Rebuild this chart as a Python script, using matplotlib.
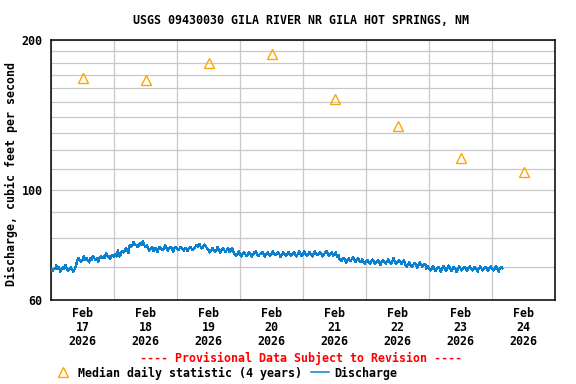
import matplotlib
matplotlib.use("Agg")
import matplotlib.pyplot as plt
import matplotlib.dates as mdates
import pandas as pd
from matplotlib.lines import Line2D
from matplotlib.ticker import FixedLocator, FixedFormatter, NullFormatter

plt.rcParams["font.family"] = ["DejaVu Sans Mono"]
plt.rcParams["font.weight"] = "bold"
plt.rcParams["font.size"] = 8.4

TITLE = "USGS 09430030 GILA RIVER NR GILA HOT SPRINGS, NM"
Y_LABEL = "Discharge, cubic feet per second"

# median daily statistic, one value per day (plotted at noon)
median_days = pd.date_range("2026-02-17 12:00", periods=8, freq="D")
median_cfs = [167.5, 166.2, 179.6, 187.5, 152.0, 134.1, 115.7, 108.4]

# discharge, 30-minute readings starting 2026-02-17 00:00
discharge_start = "2026-02-17 00:00"
discharge_cfs = [
    # Feb 17
    69.2, 68.6, 69.2, 69.2, 70.4, 69.2, 69.8, 68.4, 69.2, 69.8, 69.2, 70.6,
    69.2, 68.6, 69.2, 69.8, 69.2, 68.4, 69.2, 70.2,
    72.2, 72.8, 72.2, 71.6, 72.2, 73.4, 72.2, 72.8, 72.2, 71.4, 72.8, 72.2,
    73.6, 72.8, 72.2, 72.8, 71.6, 72.8, 73.4, 72.8,
    73.4, 72.8, 74.6, 73.4, 73.4, 72.6, 73.4, 74.0,
    # Feb 18
    73.4, 74.2, 73.4, 75.6, 73.4, 74.0,
    75.4, 74.8, 75.4, 76.4, 75.4, 74.6,
    77.4, 76.8, 77.4, 78.6, 77.4, 77.4, 76.6, 77.4, 78.0, 77.4, 79.0, 77.4,
    76.8, 77.4,
    76.2, 75.4, 76.2, 76.8, 75.2, 76.2, 76.2, 74.8, 76.2, 76.8, 76.2, 75.6,
    76.2, 77.4, 76.2, 75.4, 76.2, 76.8, 76.2, 75.0, 76.2, 76.8,
    # Feb 19
    76.2, 75.6, 76.2, 76.8, 76.2, 75.4, 76.2, 76.2, 75.2, 76.2, 76.8, 76.2,
    75.6, 76.2,
    76.8, 77.4, 76.8, 77.8, 76.8, 76.2, 76.8, 77.6, 76.8, 76.2,
    75.6, 74.8, 75.6, 76.4, 75.6, 75.0, 75.6, 76.8, 75.6, 74.6, 75.6, 76.2,
    75.6, 75.0, 75.6, 76.4, 74.8, 75.6, 76.2, 75.0,
    74.2, 73.6, 74.2, 75.2,
    # Feb 20
    74.2, 73.4, 74.2, 75.0, 74.2, 73.6, 74.2, 74.8, 74.2, 73.2, 74.2, 74.8,
    75.2, 74.2, 73.6, 74.2, 74.2, 75.0, 74.2, 73.4, 74.2, 74.8, 74.2, 73.6,
    74.2, 75.4, 74.2, 73.8, 74.2, 74.8, 74.2, 73.2, 74.2, 74.8, 74.2, 73.6,
    74.2, 75.0, 74.2, 73.6, 74.2, 74.8, 74.2, 73.4, 74.2, 75.2, 74.2, 73.6,
    # Feb 21
    74.2, 75.2, 74.2, 73.6, 74.2, 75.0, 74.2, 73.4, 74.2, 75.2, 74.2, 73.8,
    74.2, 75.0, 74.2, 73.4, 74.2, 74.8, 75.2, 74.2, 73.6, 74.2, 74.8, 73.6,
    74.2, 74.8, 73.4, 74.0,
    72.4, 71.8, 72.4, 73.0, 72.4, 71.2, 72.4, 72.8, 71.8, 72.4, 73.2, 72.4,
    71.6, 72.4, 72.8, 71.8,
    71.6, 72.4, 71.6, 71.0,
    # Feb 22
    71.6, 72.2, 71.6, 70.8, 71.6, 72.4, 71.6, 71.0, 71.6, 72.2, 71.6, 70.6,
    71.6, 72.2, 71.6, 71.0, 71.6, 72.4, 71.6, 70.8, 71.6, 73.0, 71.6, 71.0,
    71.6, 72.2, 71.6, 70.8, 71.6, 72.2,
    70.6, 70.0, 70.6, 71.4, 70.6, 69.8, 70.6, 71.2, 70.6, 69.6, 70.6, 71.4,
    70.6, 70.0, 70.6, 71.0,
    69.4, 70.2,
    # Feb 23
    69.4, 68.8, 69.4, 70.2, 69.4, 68.6, 69.4, 70.0, 69.4, 68.4, 69.4, 70.2,
    69.4, 68.8, 69.4, 70.4, 69.4, 68.6, 69.4, 70.0, 69.4, 68.2, 69.4, 70.2,
    69.4, 68.8, 69.4, 70.0, 69.4, 68.6, 69.4, 70.2, 69.4, 68.8, 69.4, 70.0,
    69.4, 68.4, 69.4, 70.2, 69.4, 68.8, 69.4, 70.0, 69.4, 68.6, 69.4, 70.2,
    # Feb 24
    69.4, 68.8, 69.4, 70.2, 69.4, 68.4, 69.4, 70.0, 69.4,
]

y_major = [60, 100, 200]
y_minor = [70, 80, 90, 110, 120, 130, 140, 150, 160, 170, 180, 190]

discharge_times = pd.date_range(discharge_start, periods=len(discharge_cfs), freq="30min")

fig = plt.figure(figsize=(5.76, 3.84), dpi=100)
ax = fig.add_axes([51 / 576, 1 - 300 / 384, 504 / 576, 260 / 384])

# thin, non-antialiased line: the zigzag fills a band with spikes like the original
ax.plot(discharge_times, discharge_cfs, color="#0a80d0", lw=0.9,
        antialiased=False, zorder=3)
ax.plot(median_days, median_cfs, ls="none", marker="^", ms=7, mfc="none",
        mec="#ffa500", mew=1.0, zorder=4)

ax.set_yscale("log")
ax.set_ylim(60, 200)
ax.yaxis.set_major_locator(FixedLocator(y_major))
ax.yaxis.set_major_formatter(FixedFormatter([str(v) for v in y_major]))
ax.yaxis.set_minor_locator(FixedLocator(y_minor))
ax.yaxis.set_minor_formatter(NullFormatter())

ax.set_xlim(pd.Timestamp("2026-02-17"), pd.Timestamp("2026-02-25"))
ax.xaxis.set_major_locator(mdates.DayLocator())
ax.xaxis.set_major_formatter(NullFormatter())
ax.xaxis.set_minor_locator(mdates.HourLocator(byhour=[12]))
ax.xaxis.set_minor_formatter(mdates.DateFormatter("%b\n%d\n%Y"))

ax.grid(True, which="major", axis="both", color="#c8c8c8", lw=0.9)
ax.grid(True, which="minor", axis="y", color="#c8c8c8", lw=0.9)
ax.tick_params(which="both", length=0)
ax.tick_params(axis="y", pad=6, labelsize=8.4)
ax.tick_params(axis="x", which="minor", pad=5, labelsize=8.4)
for lbl in ax.get_xticklabels(minor=True):
    lbl.set_linespacing(1.1)
for s in ax.spines.values():
    s.set_color("black")
    s.set_linewidth(1.1)

fig.text(301 / 576, 1 - 20 / 384, TITLE, ha="center", va="center", fontsize=8.4)
fig.text(11 / 576, 1 - 174 / 384, Y_LABEL, rotation=90, ha="center", va="center",
         fontsize=8.4)
fig.text(301 / 576, 1 - 358 / 384, "---- Provisional Data Subject to Revision ----",
         ha="center", va="center", color="red", fontsize=8.4)

handles = [
    Line2D([], [], ls="none", marker="^", ms=7, mfc="none", mec="#ffa500", mew=1.0),
    Line2D([], [], color="#0a80d0", lw=1.1),
]
fig.legend(handles, ["Median daily statistic (4 years)", "Discharge"],
           loc="center left", bbox_to_anchor=(54 / 576, 1 - 373 / 384), ncol=2,
           frameon=False, borderpad=0, borderaxespad=0, handlelength=1.55,
           handletextpad=0.5, columnspacing=0.75, numpoints=1, fontsize=8.4)

fig.savefig("out.png", dpi=100)
